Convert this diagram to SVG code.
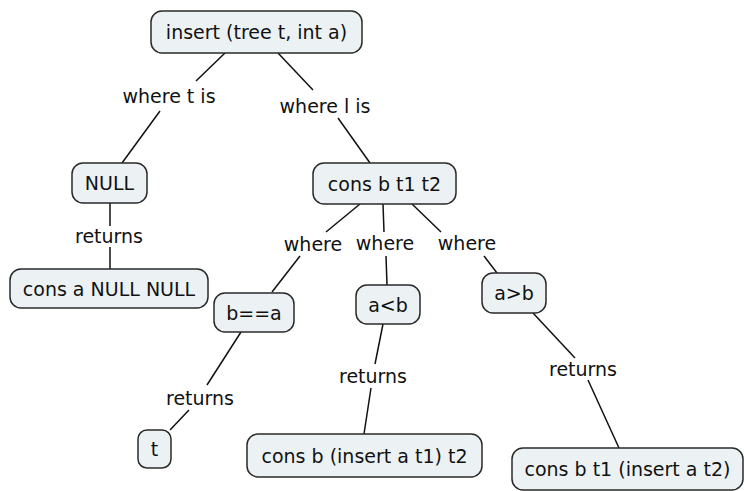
<svg xmlns="http://www.w3.org/2000/svg" width="744" height="491" viewBox="0 0 744 491">
  <style>
    .node rect { fill: #ecf2f4; stroke: #2a2a2a; stroke-width: 1.5; }
    text { font-family: "DejaVu Sans", Verdana, sans-serif; font-size: 19px; fill: #111; text-anchor: middle; dominant-baseline: central; }
    .conn line { stroke: #111; stroke-width: 1.5; }
  </style>
  <rect width="744" height="491" fill="#fff"/>
  <g class="conn">
    <line x1="225" y1="53" x2="196" y2="81"/>
    <line x1="160" y1="111" x2="122" y2="163"/>
    <line x1="278" y1="53" x2="313" y2="90"/>
    <line x1="338" y1="118" x2="370" y2="163"/>
    <line x1="110" y1="203" x2="110" y2="226"/>
    <line x1="110" y1="247" x2="110" y2="269"/>
    <line x1="360" y1="204" x2="326" y2="232"/>
    <line x1="300" y1="256" x2="272" y2="292"/>
    <line x1="383" y1="204" x2="384" y2="232"/>
    <line x1="386" y1="256" x2="387" y2="285"/>
    <line x1="412" y1="204" x2="441" y2="232"/>
    <line x1="484" y1="256" x2="497" y2="273"/>
    <line x1="241" y1="332" x2="207" y2="385"/>
    <line x1="189" y1="410" x2="170" y2="430"/>
    <line x1="383" y1="324" x2="375" y2="364"/>
    <line x1="371" y1="388" x2="364" y2="434"/>
    <line x1="533" y1="313" x2="575" y2="358"/>
    <line x1="588" y1="380" x2="619" y2="448"/>
    <text x="169" y="96">where t is</text>
    <text x="325" y="106">where l is</text>
    <text x="109" y="236">returns</text>
    <text x="313" y="244">where</text>
    <text x="385" y="243">where</text>
    <text x="467" y="243">where</text>
    <text x="200" y="398">returns</text>
    <text x="373" y="376">returns</text>
    <text x="583" y="369">returns</text>
  </g>
  <g id="insert" class="node"><rect x="151" y="11" width="211" height="42" rx="11"/><text x="256.5" y="32">insert (tree t, int a)</text></g>
  <g id="null" class="node"><rect x="72" y="163" width="75" height="40" rx="11"/><text x="109.5" y="183">NULL</text></g>
  <g id="cons-null" class="node"><rect x="10" y="269" width="198" height="39" rx="11"/><text x="109" y="288.5">cons a NULL NULL</text></g>
  <g id="cons-bt1t2" class="node"><rect x="313" y="163" width="143" height="41" rx="11"/><text x="384.5" y="183.5">cons b t1 t2</text></g>
  <g id="beq" class="node"><rect x="214" y="293" width="80" height="39" rx="11"/><text x="254" y="312.5">b==a</text></g>
  <g id="alt" class="node"><rect x="356" y="285" width="64" height="39" rx="11"/><text x="388" y="304.5">a&lt;b</text></g>
  <g id="agt" class="node"><rect x="482" y="273" width="64" height="40" rx="11"/><text x="514" y="293">a&gt;b</text></g>
  <g id="t" class="node"><rect x="138" y="430" width="33" height="38" rx="9"/><text x="154.5" y="449">t</text></g>
  <g id="cons-left" class="node"><rect x="247" y="434" width="235" height="43" rx="11"/><text x="364.5" y="455.5">cons b (insert a t1) t2</text></g>
  <g id="cons-right" class="node"><rect x="512" y="448" width="231" height="42" rx="11"/><text x="627.5" y="469">cons b t1 (insert a t2)</text></g>
</svg>
